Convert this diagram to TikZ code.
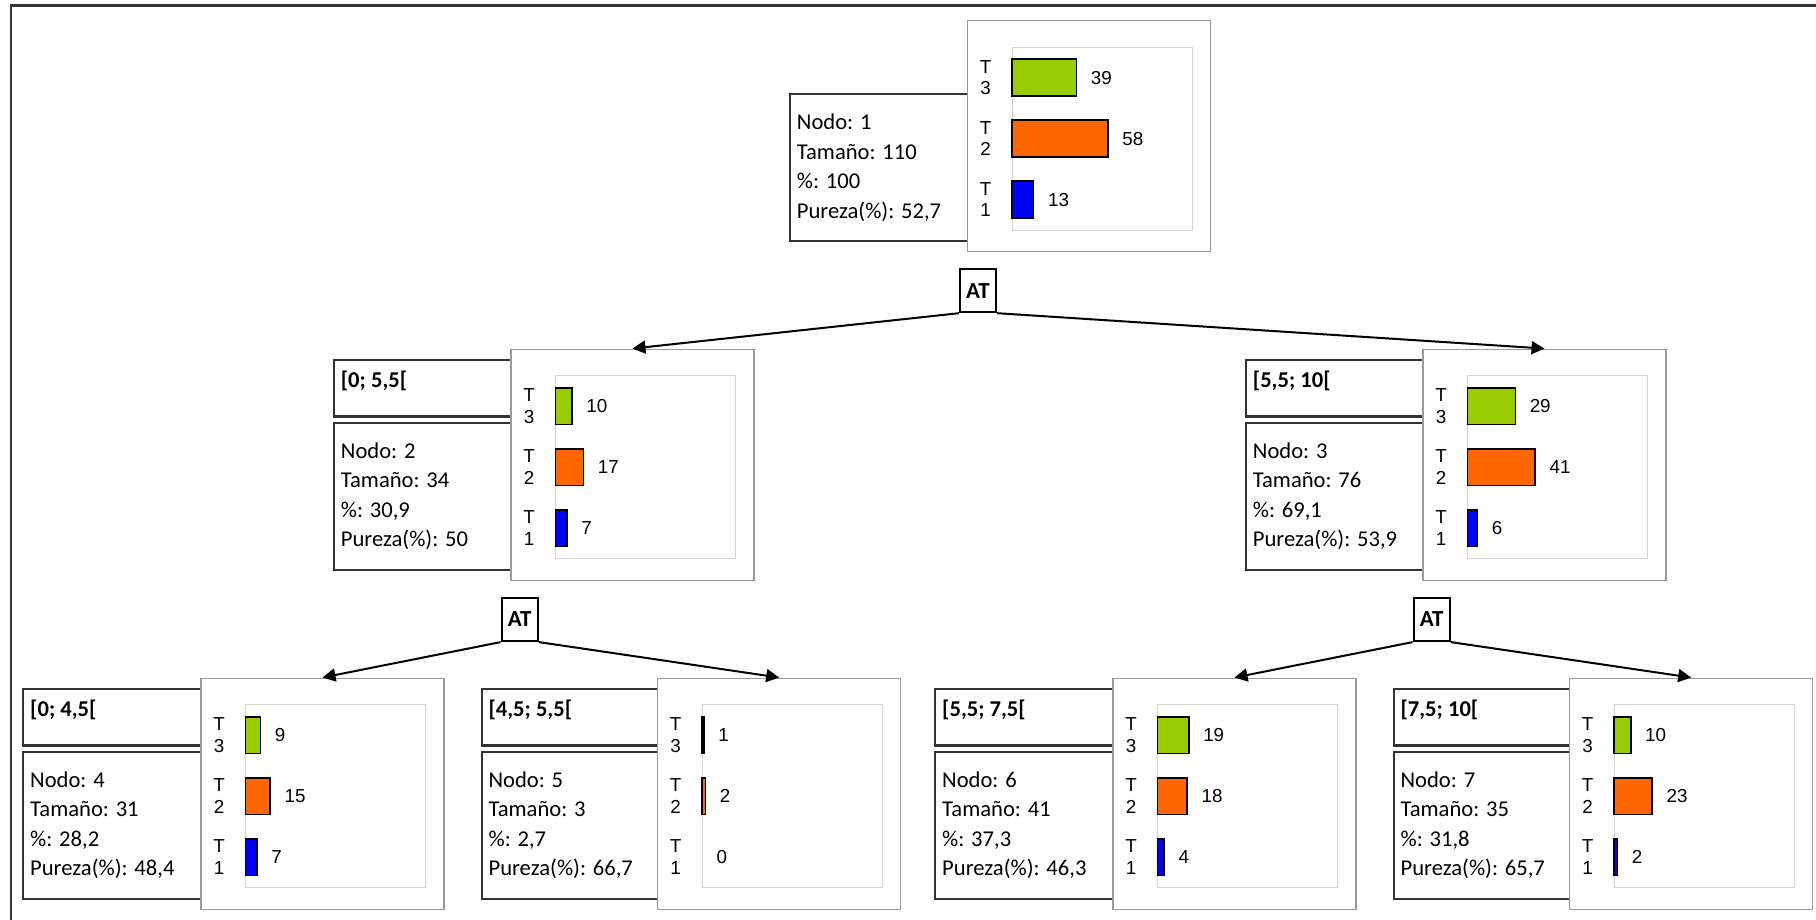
\documentclass[tikz,border=0pt]{standalone}
\usepackage{fontspec}
\setmainfont{Carlito}
\newfontfamily\chartfont{Liberation Sans}
\usetikzlibrary{fit,arrows.meta}
\definecolor{tgreen}{HTML}{99CC00}
\definecolor{torange}{HTML}{FF6600}
\definecolor{tblue}{HTML}{0000FF}
\definecolor{framegray}{HTML}{333333}
\definecolor{chartgray}{HTML}{9A9A9A}
\definecolor{plotgray}{HTML}{D4D4D4}
\tikzset{
 chartframe/.style={draw=chartgray, line width=0.75pt, fill=white, inner sep=0pt, rectangle},
 plotframe/.style={draw=plotgray, line width=0.6pt},
 barrect/.style={draw=black, line width=0.8pt},
 vallab/.style={font=\chartfont\fontsize{9.4}{10}\selectfont, anchor=west, inner sep=0pt},
 tlab/.style={font=\chartfont\fontsize{9.4}{10}\selectfont, inner sep=0pt},
 infobox/.style={draw=framegray, line width=1.1pt, fill=white, inner sep=0pt, rectangle},
 infotext/.style={font=\fontsize{11.3}{14.7}\selectfont, align=left, anchor=west, inner sep=0pt},
 labtext/.style={font=\bfseries\fontsize{11.3}{14}\selectfont, anchor=west, inner sep=0pt},
 atbox/.style={draw=black, line width=1.1pt, minimum width=18pt, minimum height=21.5pt, inner sep=0pt, font=\bfseries\fontsize{11.5}{14}\selectfont, fill=white},
 conn/.style={draw=black, line width=1pt, -{Triangle[length=6.5pt,width=6.5pt]}},
 framestyle/.style={draw=framegray, line width=1.4pt},
}
% #1 name, #2 y top, #3 value, #4 colour
\newcommand\drawbar[4]{%
 \ifnum#3>0 \draw[barrect, fill=#4] (44.5,#2) rectangle ({44.5+1.65*#3},{#2+36.7});\fi
 \node[vallab] (#1) at ({44.5+1.65*#3+14},{#2+18.4}) {#3};
}
% #1 name, #2 x, #3 y, #4 v3, #5 v2, #6 v1
\newcommand\chartnode[6]{%
 \node[chartframe, fit={(#2,#3)({#2+243},{#3+231})}] (#1) {};
 \begin{scope}[shift={(#2,#3)}]
 \draw[plotframe] (44.5,26.5) rectangle (224.5,209.5);
 \drawbar{#1-v3}{38.6}{#4}{tgreen}
 \drawbar{#1-v2}{99.6}{#5}{torange}
 \drawbar{#1-v1}{160.5}{#6}{tblue}
 \node[tlab] (#1-a3) at (18,46) {T}; \node[tlab] (#1-b3) at (18,67.6) {3};
 \node[tlab] (#1-a2) at (18,107) {T}; \node[tlab] (#1-b2) at (18,128.6) {2};
 \node[tlab] (#1-a1) at (18,168) {T}; \node[tlab] (#1-b1) at (18,189.6) {1};
 \end{scope}}
% #1 name, #2 x, #3 chart top, #4 nodo, #5 tam, #6 pct, #7 pur
\newcommand\infonode[7]{%
 \node[infobox, fit={(#2,{#3+73.5})({#2+190},{#3+220.5})}] (#1) {};
 \node[infotext] (#1-t) at ({#2+6.5},{#3+147}) {Nodo: #4\\Tamaño: #5\\\%: #6\\Pureza(\%): #7};
}
% #1 name, #2 x, #3 chart top, #4 text
\newcommand\labnode[4]{%
 \node[infobox, fit={(#2,{#3+10.7})({#2+190},{#3+67.2})}] (#1) {};
 \node[labtext] (#1-t) at ({#2+6.5},{#3+32}) {#4};
}
\begin{document}
\begin{tikzpicture}[x=0.5pt,y=-0.5pt]
\useasboundingbox (0,0) rectangle (1816,920);
\draw[framestyle] (11,920) -- (11,5.5) -- (1816,5.5);
% node 1
\infonode{i1}{790}{20.7}{1}{110}{100}{52,7}
\chartnode{n1}{967.7}{20.7}{39}{58}{13}
% node 2
\labnode{l2}{334}{349.3}{[0; 5,5[}
\infonode{i2}{334}{349.3}{2}{34}{30,9}{50}
\chartnode{n2}{511}{349.3}{10}{17}{7}
% node 3
\labnode{l3}{1246}{349.3}{[5,5; 10[}
\infonode{i3}{1246}{349.3}{3}{76}{69,1}{53,9}
\chartnode{n3}{1423}{349.3}{29}{41}{6}
% node 4
\labnode{l4}{23.3}{678.3}{[0; 4,5[}
\infonode{i4}{23.3}{678.3}{4}{31}{28,2}{48,4}
\chartnode{n4}{201}{678.3}{9}{15}{7}
% node 5
\labnode{l5}{481.7}{678.3}{[4,5; 5,5[}
\infonode{i5}{481.7}{678.3}{5}{3}{2,7}{66,7}
\chartnode{n5}{657.7}{678.3}{1}{2}{0}
% node 6
\labnode{l6}{935.3}{678.3}{[5,5; 7,5[}
\infonode{i6}{935.3}{678.3}{6}{41}{37,3}{46,3}
\chartnode{n6}{1113}{678.3}{19}{18}{4}
% node 7
\labnode{l7}{1393.7}{678.3}{[7,5; 10[}
\infonode{i7}{1393.7}{678.3}{7}{35}{31,8}{65,7}
\chartnode{n7}{1569.7}{678.3}{10}{23}{2}
% split nodes
\node[atbox] (at1) at (978,290.6) {AT};
\node[atbox] (at2) at (519.7,619.5) {AT};
\node[atbox] (at3) at (1431.7,619.5) {AT};
\draw[conn] (at1.south west) -- (n2.north);
\draw[conn] (at1.south east) -- (n3.north);
\draw[conn] (at2.south west) -- (n4.north);
\draw[conn] (at2.south east) -- (n5.north);
\draw[conn] (at3.south west) -- (n6.north);
\draw[conn] (at3.south east) -- (n7.north);
\end{tikzpicture}
\end{document}
